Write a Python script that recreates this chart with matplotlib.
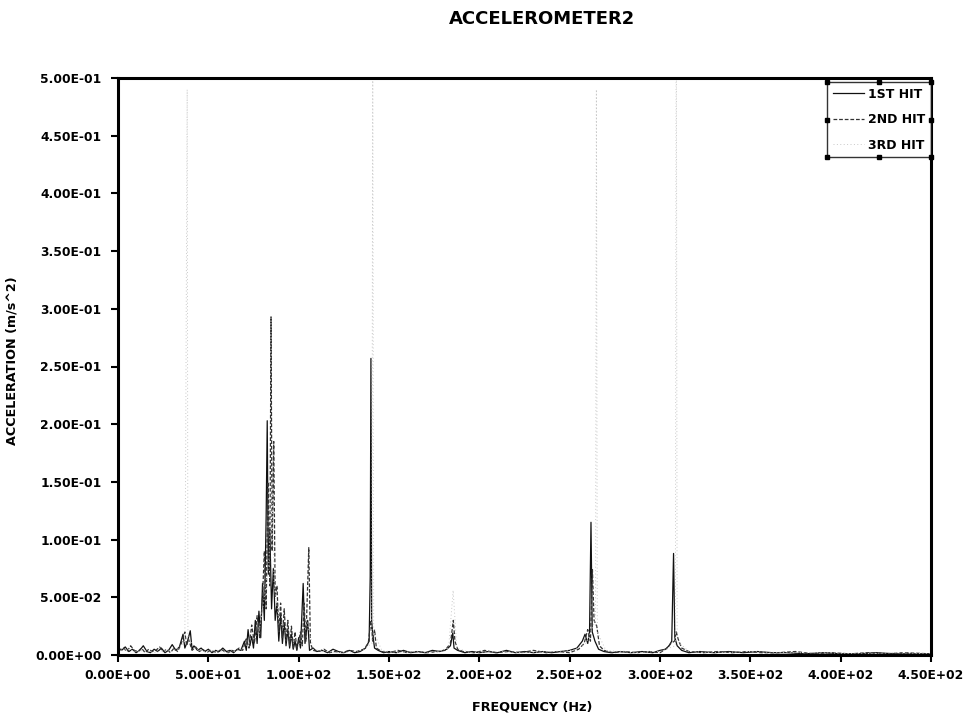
import numpy as np
import matplotlib
matplotlib.use("Agg")
import matplotlib.pyplot as plt
from matplotlib.lines import Line2D

plt.rcParams['font.family'] = ['DejaVu Sans']
plt.rcParams['font.weight'] = 'bold'

# Spectrum samples: (frequency in Hz, acceleration in m/s^2)
hit1 = [
    (0, 0.006), (2, 0.004), (4, 0.007), (6, 0.003), (8, 0.005), (10, 0.002), (12, 0.004),
    (14, 0.008), (16, 0.003), (18, 0.002), (20, 0.005), (22, 0.003), (24, 0.006), (26, 0.002),
    (28, 0.004), (30, 0.009), (32, 0.004), (34, 0.007), (36, 0.018), (37, 0.006), (38.5, 0.012),
    (40, 0.021), (41, 0.005), (42, 0.008), (44, 0.004), (46, 0.006), (48, 0.003), (50, 0.005),
    (52, 0.002), (54, 0.004), (56, 0.003), (58, 0.006), (60, 0.003), (62, 0.004), (64, 0.002),
    (66, 0.005), (68, 0.004), (70, 0.012), (71, 0.004), (72, 0.022), (73, 0.008), (74, 0.016),
    (75, 0.006), (76, 0.030), (77, 0.010), (78, 0.038), (79, 0.015), (80, 0.062), (81, 0.030),
    (82, 0.120), (82.6, 0.203), (83.2, 0.070), (84, 0.110), (85, 0.040), (86, 0.075), (87, 0.030),
    (88, 0.045), (89, 0.012), (90, 0.035), (91, 0.010), (92, 0.028), (93, 0.008), (94, 0.022),
    (95, 0.006), (96, 0.018), (97, 0.005), (98, 0.012), (99, 0.004), (100, 0.015), (101, 0.006),
    (102.5, 0.062), (103.5, 0.010), (105, 0.030), (106, 0.004), (108, 0.006), (110, 0.003),
    (113, 0.004), (116, 0.002), (119, 0.005), (122, 0.003), (125, 0.002), (128, 0.004),
    (131, 0.002), (134, 0.003), (137, 0.006), (139, 0.012), (139.6, 0.068), (140, 0.257),
    (140.4, 0.030), (141, 0.018), (142, 0.006), (144, 0.004), (147, 0.002), (150, 0.003),
    (154, 0.002), (158, 0.004), (162, 0.002), (166, 0.003), (170, 0.002), (174, 0.004),
    (178, 0.003), (182, 0.005), (184, 0.008), (185.3, 0.019), (186, 0.006), (188, 0.004),
    (192, 0.002), (196, 0.003), (200, 0.002), (205, 0.003), (210, 0.002), (215, 0.004),
    (220, 0.002), (225, 0.003), (230, 0.002), (235, 0.003), (240, 0.002), (245, 0.003),
    (250, 0.004), (254, 0.006), (257, 0.012), (258.5, 0.018), (260, 0.010), (261, 0.020),
    (261.8, 0.115), (262.5, 0.020), (264, 0.012), (266, 0.005), (269, 0.003), (273, 0.002),
    (278, 0.003), (284, 0.002), (290, 0.003), (296, 0.002), (300, 0.004), (303, 0.005),
    (305, 0.008), (306.5, 0.012), (307.5, 0.088), (308.2, 0.015), (309.5, 0.008), (312, 0.004),
    (316, 0.002), (322, 0.003), (330, 0.002), (338, 0.003), (346, 0.002), (354, 0.003),
    (362, 0.002), (370, 0.002), (380, 0.001), (390, 0.002), (400, 0.001), (410, 0.001),
    (420, 0.002), (430, 0.001), (440, 0.001), (450, 0.001),
]

hit2 = [
    (0, 0.004), (3, 0.006), (5, 0.003), (7, 0.008), (9, 0.004), (11, 0.003), (13, 0.006),
    (15, 0.002), (17, 0.005), (19, 0.003), (21, 0.004), (23, 0.007), (25, 0.003), (27, 0.005),
    (29, 0.002), (31, 0.006), (33, 0.003), (35, 0.010), (37, 0.020), (38, 0.008), (39, 0.014),
    (41, 0.004), (43, 0.007), (45, 0.003), (47, 0.005), (49, 0.002), (51, 0.004), (53, 0.003),
    (55, 0.002), (57, 0.005), (59, 0.003), (61, 0.002), (63, 0.004), (65, 0.003), (67, 0.006),
    (69, 0.004), (71, 0.014), (72.5, 0.006), (74, 0.026), (75.5, 0.010), (77, 0.034),
    (78.5, 0.015), (80, 0.050), (81, 0.090), (82, 0.040), (83, 0.150), (84, 0.060),
    (84.7, 0.293), (85.3, 0.090), (86.2, 0.185), (87, 0.050), (88, 0.060), (89, 0.020),
    (90, 0.045), (91, 0.015), (92, 0.040), (93, 0.012), (94, 0.030), (95, 0.008), (96, 0.025),
    (97, 0.006), (98, 0.020), (99, 0.005), (100, 0.012), (101, 0.020), (102, 0.008),
    (103, 0.045), (104, 0.012), (105.6, 0.093), (106.5, 0.010), (108, 0.004), (111, 0.003),
    (114, 0.005), (117, 0.002), (120, 0.003), (124, 0.002), (128, 0.004), (132, 0.003),
    (136, 0.005), (138.5, 0.010), (140, 0.030), (141, 0.012), (142, 0.022), (143, 0.006),
    (146, 0.003), (150, 0.002), (155, 0.004), (160, 0.002), (165, 0.003), (171, 0.002),
    (177, 0.003), (181, 0.004), (184, 0.010), (185.6, 0.030), (186.5, 0.012), (188, 0.005),
    (191, 0.003), (197, 0.002), (203, 0.004), (209, 0.002), (216, 0.003), (223, 0.002),
    (230, 0.004), (237, 0.002), (244, 0.003), (250, 0.002), (255, 0.005), (258, 0.010),
    (260, 0.022), (261.5, 0.012), (262.6, 0.074), (263.5, 0.030), (265, 0.025), (266.5, 0.008),
    (269, 0.004), (274, 0.002), (280, 0.003), (287, 0.002), (294, 0.003), (300, 0.002),
    (304, 0.006), (306, 0.010), (308, 0.012), (309, 0.020), (310, 0.014), (312, 0.006),
    (316, 0.003), (324, 0.002), (332, 0.003), (340, 0.002), (348, 0.003), (356, 0.002),
    (365, 0.002), (375, 0.003), (385, 0.001), (395, 0.002), (405, 0.001), (415, 0.002),
    (425, 0.001), (435, 0.002), (450, 0.001),
]

hit3 = [
    (0, 0.003), (5, 0.005), (10, 0.003), (15, 0.004), (20, 0.002), (25, 0.004), (30, 0.003),
    (34, 0.006), (37, 0.012), (38.3, 0.490), (38.7, 0.015), (43, 0.005), (48, 0.003), (55, 0.004),
    (62, 0.002), (68, 0.005), (74, 0.012), (78, 0.020), (81, 0.050), (83.5, 0.080), (85.2, 0.150),
    (86.5, 0.060), (89, 0.030), (93, 0.020), (97, 0.012), (101, 0.010), (104.5, 0.030),
    (108, 0.005), (115, 0.003), (125, 0.002), (135, 0.004), (140.5, 0.010), (141, 0.520),
    (141.5, 0.020), (146, 0.004), (155, 0.002), (165, 0.003), (175, 0.002), (183, 0.006),
    (185.5, 0.056), (187.5, 0.006), (195, 0.002), (210, 0.003), (225, 0.002), (240, 0.003),
    (252, 0.004), (259, 0.010), (264.3, 0.030), (264.8, 0.490), (265.3, 0.020), (270, 0.004),
    (285, 0.002), (300, 0.003), (308.5, 0.008), (309, 0.600), (309.5, 0.012), (316, 0.003),
    (330, 0.002), (350, 0.003), (370, 0.002), (390, 0.002), (410, 0.001), (430, 0.002),
    (450, 0.001),
]

series_labels = ["1ST HIT", "2ND HIT", "3RD HIT"]
x_ticks = [0, 50, 100, 150, 200, 250, 300, 350, 400, 450]
y_ticks = [0, 0.05, 0.10, 0.15, 0.20, 0.25, 0.30, 0.35, 0.40, 0.45, 0.50]

fig = plt.figure(figsize=(9.66, 7.15), dpi=100)
ax = fig.add_axes([118 / 966, 1 - 655 / 715, 813 / 966, 577 / 715])

styles = [
    dict(color="#111111", lw=0.9, ls="-"),
    dict(color="#333333", lw=0.9, ls=(0, (3, 1.5))),
    dict(color="#c8c8c8", lw=0.7, ls=(0, (1, 2.5))),
]
lines = []
for data, label, st in zip([hit1, hit2, hit3], series_labels, styles):
    arr = np.array(data)
    ln, = ax.plot(arr[:, 0], arr[:, 1], label=label, **st)
    lines.append(ln)

ax.set_xlim(0, 450)
ax.set_ylim(0, 0.5)
ax.set_xticks(x_ticks)
ax.set_yticks(y_ticks)
ax.set_xticklabels(["%.2E" % v for v in x_ticks])
ax.set_yticklabels(["%.2E" % v for v in y_ticks])
ax.tick_params(axis="both", direction="out", length=5, width=1.5, labelsize=8.8)
ax.tick_params(axis="y", pad=7)
ax.tick_params(axis="x", pad=5)
for lab in ax.get_xticklabels() + ax.get_yticklabels():
    lab.set_fontweight("bold")
for sp in ax.spines.values():
    sp.set_linewidth(2.2)
    sp.set_color("black")

ax.set_xlabel("FREQUENCY (Hz)", fontsize=9.2, fontweight="bold")
ax.set_ylabel("ACCELERATION (m/s^2)", fontsize=9.2, fontweight="bold")
ax.xaxis.set_label_coords((532 - 118) / 813, -0.078)
ax.yaxis.set_label_coords(-0.123, 0.51)

fig.text(542 / 966, 1 - 19 / 715, "ACCELEROMETER2", ha="center", va="center",
         fontsize=13, fontweight="bold")

leg = ax.legend(handles=lines, loc="upper right", bbox_to_anchor=(1.0, 0.993),
                borderaxespad=0, frameon=True, fancybox=False,
                handlelength=2.5, handletextpad=0.35, labelspacing=1.0,
                borderpad=0.45, prop={"weight": "bold", "size": 9})
leg.get_frame().set_edgecolor("black")
leg.get_frame().set_linewidth(1.0)

# selection handles around the legend box
fig.canvas.draw()
bb = leg.get_window_extent().transformed(fig.transFigure.inverted())
xs = [bb.x0, (bb.x0 + bb.x1) / 2, bb.x1]
ys = [bb.y0, (bb.y0 + bb.y1) / 2, bb.y1]
pts = [(x, y) for x in xs for y in ys if not (x == xs[1] and y == ys[1])]
fig.add_artist(Line2D([p[0] for p in pts], [p[1] for p in pts], ls="none",
                      marker="s", ms=3.5, color="black", transform=fig.transFigure))

fig.savefig("out.png", dpi=100, facecolor="white")
